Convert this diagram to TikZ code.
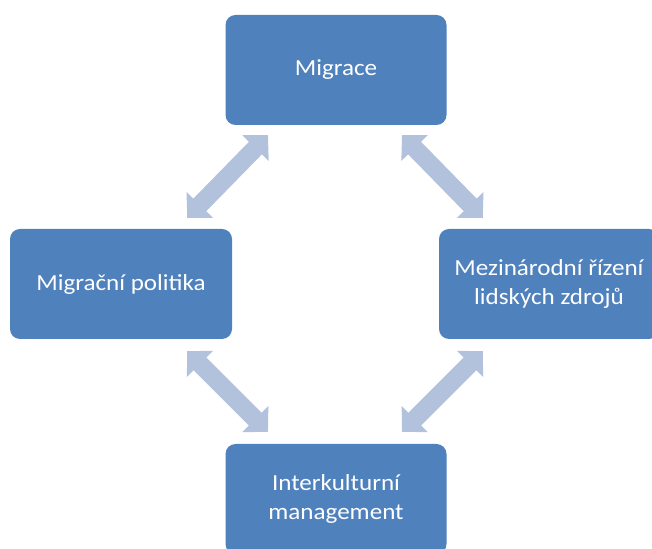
\documentclass[tikz,border=0pt]{standalone}
\usepackage{fontspec}
\setmainfont{Carlito}[FakeStretch=1.09]
\usetikzlibrary{arrows.meta}
\definecolor{boxblue}{HTML}{4F81BD}
\definecolor{arrowblue}{HTML}{B3C2DC}
\tikzset{
  boxnode/.style={fill=boxblue, rounded corners=10pt, minimum width=221pt, minimum height=110pt,
    text=white, align=center, inner sep=0pt, font=\fontsize{23pt}{29pt}\selectfont},
  biarrow/.style={draw=arrowblue, line width=18pt,
    {Triangle[length=18pt, width=36pt]}-{Triangle[length=18pt, width=36pt]}}
}
\begin{document}
\begin{tikzpicture}[x=1pt,y=1pt]
\useasboundingbox (0,0) rectangle (652,548);
\clip (0,0) rectangle (652,548);
\node[boxnode] (mig) at (336,478) {Migrace};
\node[boxnode, minimum width=222pt] (pol) at (121,264) {Migrační politika};
\node[boxnode, minimum width=220pt] (mez) at (549,264) {Mezinárodní řízení\\lidských zdrojů};
\node[boxnode] (int) at (336,49) {Interkulturní\\management};
\coordinate (a1) at ([shift={(-68,-10)}]mig.south);
\coordinate (b1) at ([shift={(-45,11)}]pol.north east);
\coordinate (a2) at ([shift={(66,-10)}]mig.south);
\coordinate (b2) at ([shift={(44,11)}]mez.north west);
\coordinate (a3) at ([shift={(-45,-12)}]pol.south east);
\coordinate (b3) at ([shift={(-68,12)}]int.north);
\coordinate (a4) at ([shift={(66,12)}]int.north);
\coordinate (b4) at ([shift={(44,-12)}]mez.south west);
\draw[biarrow] (a1) -- (b1);
\draw[biarrow] (a2) -- (b2);
\draw[biarrow] (a3) -- (b3);
\draw[biarrow] (a4) -- (b4);
\end{tikzpicture}
\end{document}
